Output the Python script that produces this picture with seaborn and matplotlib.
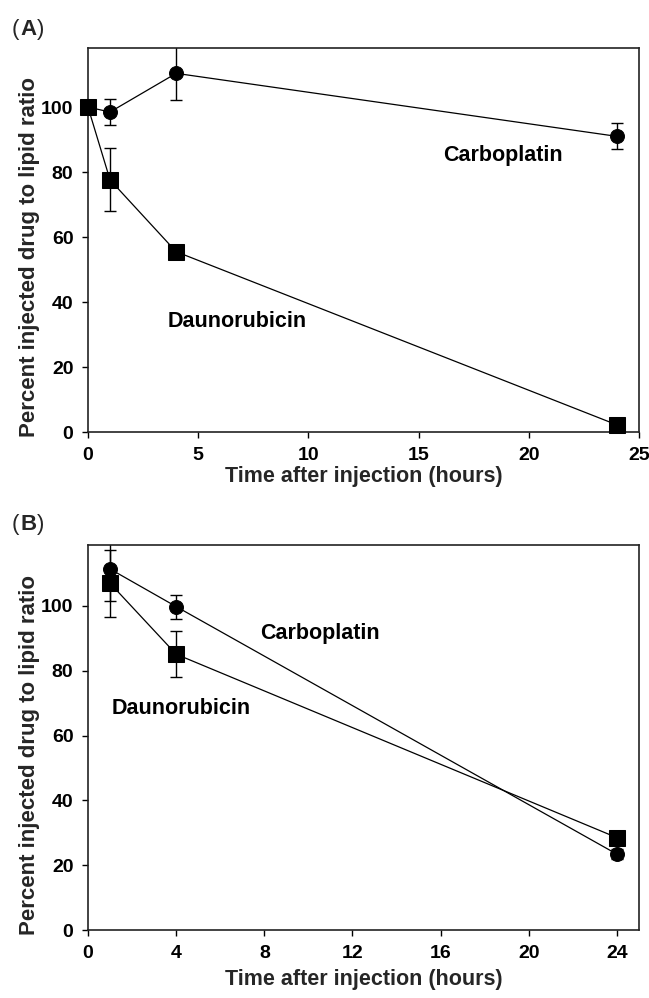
import numpy as np
import pandas as pd
import matplotlib
matplotlib.use("Agg")
import matplotlib.pyplot as plt
import seaborn as sns

# Panel A: drug-to-lipid ratio after injection
time_a = [0, 1, 4, 24]
carbo_a = [100.0, 98.5, 110.4, 91.0]
carbo_a_err = [0.0, 4.0, 8.3, 4.0]
dauno_a = [100.0, 77.6, 55.5, 2.2]
dauno_a_err = [0.0, 9.7, 0.0, 0.0]

# Panel B
time_b = [1, 4, 24]
carbo_b = [111.4, 99.8, 23.4]
carbo_b_err = [10.0, 3.7, 1.5]
dauno_b = [107.0, 85.1, 28.5]
dauno_b_err = [10.4, 7.1, 1.5]

xticks_a = [0, 5, 10, 15, 20, 25]
xticks_b = [0, 4, 8, 12, 16, 20, 24]
yticks = [0, 20, 40, 60, 80, 100]

sns.set_style("ticks")
plt.rcParams["font.family"] = ["Liberation Sans", "DejaVu Sans"]
plt.rcParams["font.weight"] = "bold"

fig = plt.figure(figsize=(6.49, 9.98), dpi=100)
ax_a = fig.add_axes([0.1356, 0.5671, 0.8490, 0.3848])
ax_b = fig.add_axes([0.1356, 0.0681, 0.8490, 0.3858])


def draw_panel(ax, t, carbo, carbo_err, dauno, dauno_err, ymax, xticks,
               labels, xlabelpad):
    df = pd.DataFrame({
        "time": list(t) * 2,
        "value": list(carbo) + list(dauno),
        "drug": ["Carboplatin"] * len(t) + ["Daunorubicin"] * len(t),
    })
    # error bars beneath the markers
    ax.errorbar(t, carbo, yerr=carbo_err, fmt="none", ecolor="black",
                elinewidth=1.0, capsize=4, capthick=1.0, zorder=2)
    ax.errorbar(t, dauno, yerr=dauno_err, fmt="none", ecolor="black",
                elinewidth=1.0, capsize=4, capthick=1.0, zorder=2)
    n_before = len(ax.lines)
    sns.lineplot(data=df[df.drug == "Carboplatin"], x="time", y="value",
                 ax=ax, color="black", lw=0.9, marker="o", ms=10,
                 mec="black", mfc="black", zorder=3)
    sns.lineplot(data=df[df.drug == "Daunorubicin"], x="time", y="value",
                 ax=ax, color="black", lw=0.9, marker="s", ms=11,
                 mec="black", mfc="black", zorder=4)
    # let markers sitting on the axis edge show in full
    for line in ax.lines[n_before:]:
        line.set_clip_on(False)
    ax.set_xlim(0, 25)
    ax.set_ylim(0, ymax)
    ax.set_xticks(xticks)
    ax.set_yticks(yticks)
    ax.tick_params(axis="both", direction="out", length=4.5, width=1.0,
                   pad=6.0, labelsize=14, colors="black")
    for lab in ax.get_xticklabels() + ax.get_yticklabels():
        lab.set_fontweight("bold")
    for sp in ax.spines.values():
        sp.set_visible(True)
        sp.set_linewidth(1.2)
        sp.set_color("#222222")
    ax.set_xlabel("Time after injection (hours)", fontsize=15.5,
                  fontweight="bold", labelpad=xlabelpad)
    ax.set_ylabel("Percent injected drug to lipid ratio", fontsize=16,
                  fontweight="bold")
    ax.yaxis.set_label_coords(-0.088, 0.455)
    for text, x, y in labels:
        ax.text(x, y, text, fontsize=15.5, fontweight="bold",
                ha="left", va="center", color="black")


draw_panel(ax_a, time_a, carbo_a, carbo_a_err, dauno_a, dauno_a_err, 118.2,
           xticks_a, [("Carboplatin", 16.1, 85.2), ("Daunorubicin", 3.6, 34.0)],
           xlabelpad=2)
draw_panel(ax_b, time_b, carbo_b, carbo_b_err, dauno_b, dauno_b_err, 118.8,
           xticks_b, [("Carboplatin", 7.8, 91.6), ("Daunorubicin", 1.05, 68.4)],
           xlabelpad=5)

# panel letters: regular parentheses around a bold letter
for letter, ypos in (("A", 0.9704), ("B", 0.4740)):
    fig.text(0.0185, ypos, "(", fontsize=16, fontweight="normal",
             ha="left", va="center")
    fig.text(0.0315, ypos, letter, fontsize=16, fontweight="bold",
             ha="left", va="center")
    fig.text(0.0575, ypos, ")", fontsize=16, fontweight="normal",
             ha="left", va="center")

fig.savefig("out.png", dpi=100)
